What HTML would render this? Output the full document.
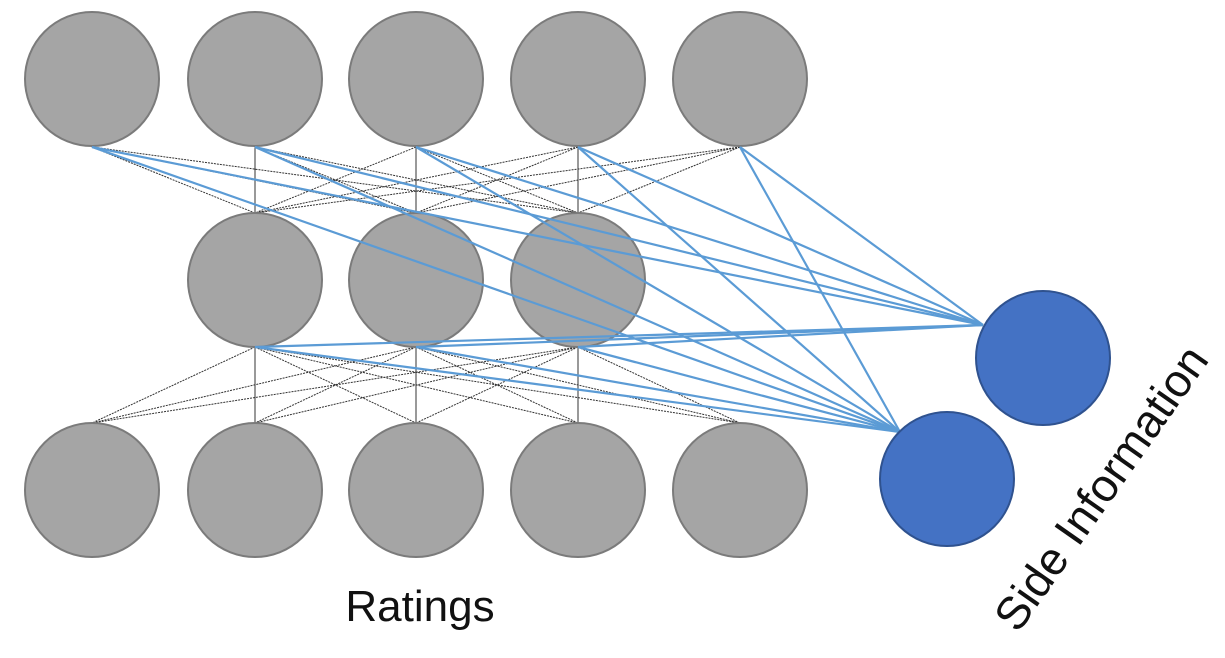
<!DOCTYPE html>
<html><head><meta charset="utf-8"><style>
html,body{margin:0;padding:0;background:#fff;}
svg{display:block;}
</style></head><body>
<svg id="chart" width="1225" height="658" viewBox="0 0 1225 658" xmlns="http://www.w3.org/2000/svg">
<g id="dotted"></g>
<g id="nodes"></g>
<g id="blue"></g>
<g id="side"></g>
<text x="420" y="621" font-family="Liberation Sans, sans-serif" font-size="44" text-anchor="middle" fill="#111">Ratings</text>
<text x="0" y="0" transform="translate(1114,497) rotate(-55)" font-family="Liberation Sans, sans-serif" font-size="46" text-anchor="middle" fill="#111">Side Information</text>
</svg>
<script>
const topX=[92,255,416,578,740];
const midX=[255,416,578];
const botX=[92,255,416,578,740];
const rowY=[79,280,490];
const sideNodes=[[1043,358],[947,479]];
const targets=[[983,325],[900,432]];
const R=67;
const NS="http://www.w3.org/2000/svg";
function mk(tag,attrs,parent){const e=document.createElementNS(NS,tag);for(const k in attrs)e.setAttribute(k,attrs[k]);parent.appendChild(e);return e;}
const dotted=document.getElementById('dotted'),nodes=document.getElementById('nodes'),blue=document.getElementById('blue'),side=document.getElementById('side');
function dl(x1,y1,x2,y2){
  const l=mk('line',{x1,y1,x2,y2,stroke:'#333','stroke-width':1,'stroke-dasharray':x1===x2?'none':'2 1'},dotted);
  
  
}
topX.forEach(a=>midX.forEach(b=>dl(a,rowY[0]+R+1,b,rowY[1]-R)));
midX.forEach(a=>botX.forEach(b=>dl(a,rowY[1]+R,b,rowY[2]-R)));
function node(x,y,fill,stroke,parent,name){
  const c=mk('circle',{cx:x,cy:y,r:R,fill,stroke,'stroke-width':2},parent);
  
  
}
topX.forEach(x=>node(x,rowY[0],'#a5a5a5','#7b7b7b',nodes,'input-node'));
midX.forEach(x=>node(x,rowY[1],'#a5a5a5','#7b7b7b',nodes,'hidden-node'));
botX.forEach(x=>node(x,rowY[2],'#a5a5a5','#7b7b7b',nodes,'output-node'));
function bl(x1,y1,t){
  const l=mk('line',{x1,y1,x2:t[0],y2:t[1],stroke:'#5b9bd5','stroke-width':2.2},blue);
  
  
}
topX.forEach(x=>targets.forEach(t=>bl(x,rowY[0]+R+1,t)));
midX.forEach(x=>targets.forEach(t=>bl(x,rowY[1]+R,t)));
sideNodes.forEach(p=>node(p[0],p[1],'#4472c4','#2f528f',side,'side-info-node'));
</script>
</body></html>
